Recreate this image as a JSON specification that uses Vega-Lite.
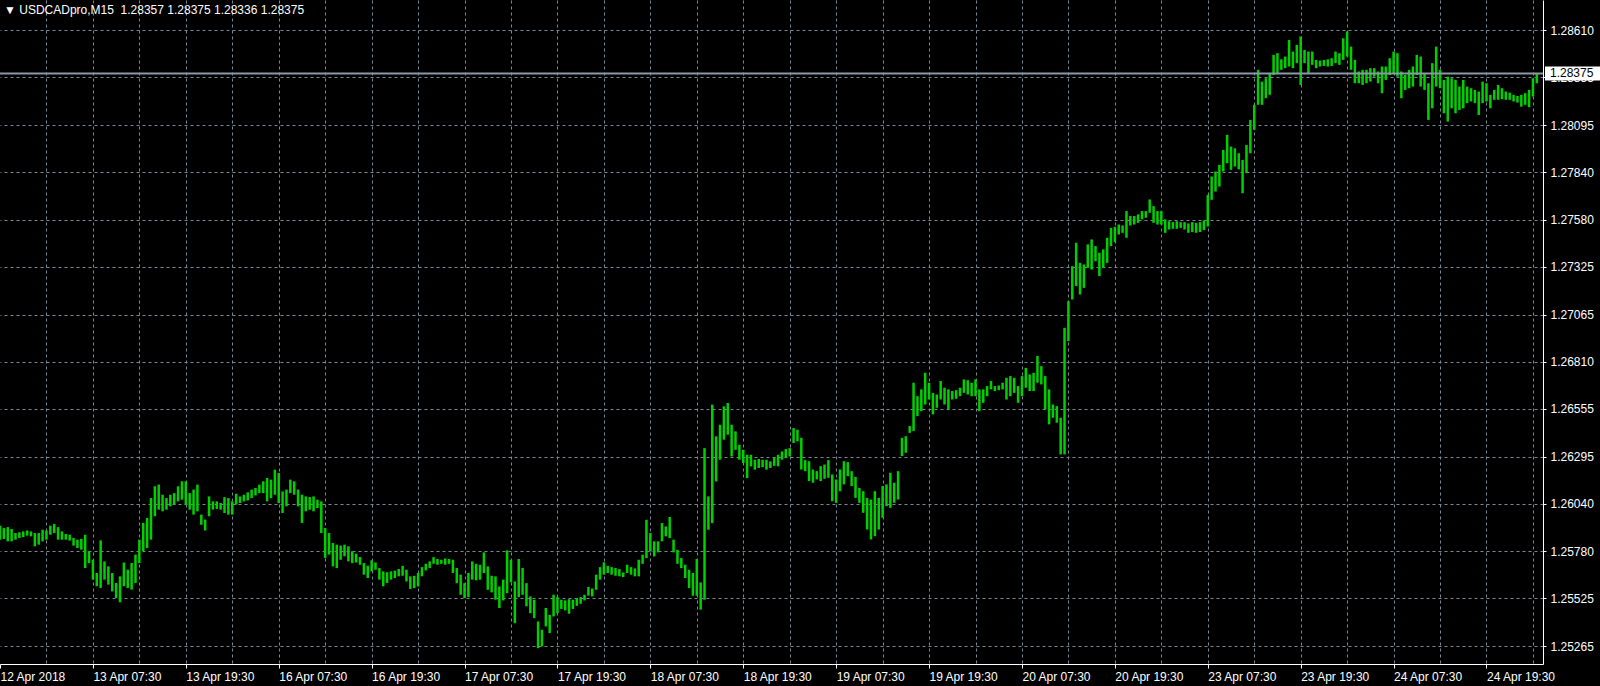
{
"$schema":"https://vega.github.io/schema/vega-lite/v6.json",
"width":1543,"height":664,"padding":{"left":0,"top":0,"right":57,"bottom":22},"autosize":{"type":"none"},
"background":"#000000",
"config":{"view":{"stroke":null,"fill":"#000000"},"font":"Liberation Sans"},
"layer":[
{"data":{"values":[
{"t":19.5,"hi":1.25920,"lo":1.25844},{"t":20,"hi":1.25907,"lo":1.25848},{"t":20.5,"hi":1.25912,"lo":1.25835},{"t":21,"hi":1.25902,"lo":1.25835},{"t":21.5,"hi":1.25880,"lo":1.25844},{"t":22,"hi":1.25884,"lo":1.25853},{"t":22.5,"hi":1.25889,"lo":1.25858},{"t":23,"hi":1.25894,"lo":1.25866},{"t":23.5,"hi":1.25889,"lo":1.25862},{"t":24,"hi":1.25880,"lo":1.25808},
{"t":24.5,"hi":1.25880,"lo":1.25817},{"t":25,"hi":1.25898,"lo":1.25835},{"t":25.5,"hi":1.25894,"lo":1.25844},{"t":26,"hi":1.25920,"lo":1.25871},{"t":26.5,"hi":1.25929,"lo":1.25880},{"t":27,"hi":1.25912,"lo":1.25844},{"t":27.5,"hi":1.25889,"lo":1.25844},{"t":28,"hi":1.25875,"lo":1.25844},{"t":28.5,"hi":1.25871,"lo":1.25839},{"t":29,"hi":1.25853,"lo":1.25812},
{"t":29.5,"hi":1.25844,"lo":1.25799},{"t":30,"hi":1.25848,"lo":1.25790},{"t":30.5,"hi":1.25871,"lo":1.25690},{"t":31,"hi":1.25781,"lo":1.25717},{"t":31.5,"hi":1.25735,"lo":1.25627},{"t":32,"hi":1.25663,"lo":1.25591},{"t":32.5,"hi":1.25840,"lo":1.25582},{"t":33,"hi":1.25726,"lo":1.25627},{"t":33.5,"hi":1.25699,"lo":1.25600},{"t":34,"hi":1.25663,"lo":1.25563},
{"t":34.5,"hi":1.25609,"lo":1.25527},{"t":35,"hi":1.25645,"lo":1.25504},{"t":35.5,"hi":1.25720,"lo":1.25591},{"t":36,"hi":1.25681,"lo":1.25582},{"t":36.5,"hi":1.25717,"lo":1.25573},{"t":37,"hi":1.25763,"lo":1.25609},{"t":37.5,"hi":1.25844,"lo":1.25717},{"t":38,"hi":1.25935,"lo":1.25781},{"t":38.5,"hi":1.25962,"lo":1.25799},{"t":39,"hi":1.26070,"lo":1.25844},
{"t":39.5,"hi":1.26134,"lo":1.25971},{"t":40,"hi":1.26143,"lo":1.26007},{"t":40.5,"hi":1.26088,"lo":1.25998},{"t":41,"hi":1.26070,"lo":1.26007},{"t":41.5,"hi":1.26088,"lo":1.26025},{"t":42,"hi":1.26097,"lo":1.26034},{"t":42.5,"hi":1.26134,"lo":1.26052},{"t":43,"hi":1.26161,"lo":1.26061},{"t":43.5,"hi":1.26161,"lo":1.26034},{"t":44,"hi":1.26097,"lo":1.26007},
{"t":44.5,"hi":1.26116,"lo":1.25980},{"t":45,"hi":1.26143,"lo":1.25998},{"t":45.5,"hi":1.25980,"lo":1.25925},{"t":46,"hi":1.25953,"lo":1.25894},{"t":46.5,"hi":1.26079,"lo":1.25971},{"t":47,"hi":1.26052,"lo":1.26007},{"t":47.5,"hi":1.26052,"lo":1.26011},{"t":48,"hi":1.26043,"lo":1.26007},{"t":48.5,"hi":1.26075,"lo":1.25989},{"t":49,"hi":1.26070,"lo":1.25980},
{"t":49.5,"hi":1.26052,"lo":1.25980},{"t":50,"hi":1.26093,"lo":1.26034},{"t":50.5,"hi":1.26079,"lo":1.26043},{"t":51,"hi":1.26088,"lo":1.26052},{"t":51.5,"hi":1.26101,"lo":1.26057},{"t":52,"hi":1.26116,"lo":1.26070},{"t":52.5,"hi":1.26125,"lo":1.26084},{"t":53,"hi":1.26143,"lo":1.26097},{"t":53.5,"hi":1.26161,"lo":1.26097},{"t":54,"hi":1.26179,"lo":1.26052},
{"t":54.5,"hi":1.26170,"lo":1.26070},{"t":55,"hi":1.26224,"lo":1.26088},{"t":55.5,"hi":1.26206,"lo":1.26043},{"t":56,"hi":1.26106,"lo":1.25989},{"t":56.5,"hi":1.26116,"lo":1.26025},{"t":57,"hi":1.26170,"lo":1.26097},{"t":57.5,"hi":1.26161,"lo":1.26088},{"t":58,"hi":1.26116,"lo":1.26025},{"t":58.5,"hi":1.26088,"lo":1.25935},{"t":59,"hi":1.26079,"lo":1.25998},
{"t":59.5,"hi":1.26075,"lo":1.26007},{"t":60,"hi":1.26079,"lo":1.25998},{"t":60.5,"hi":1.26061,"lo":1.26016},{"t":61,"hi":1.26052,"lo":1.25880},{"t":61.5,"hi":1.25907,"lo":1.25745},{"t":62,"hi":1.25880,"lo":1.25763},{"t":62.5,"hi":1.25826,"lo":1.25699},{"t":63,"hi":1.25817,"lo":1.25690},{"t":63.5,"hi":1.25812,"lo":1.25735},{"t":64,"hi":1.25817,"lo":1.25754},
{"t":64.5,"hi":1.25808,"lo":1.25726},{"t":65,"hi":1.25781,"lo":1.25717},{"t":65.5,"hi":1.25768,"lo":1.25720},{"t":66,"hi":1.25750,"lo":1.25708},{"t":66.5,"hi":1.25717,"lo":1.25654},{"t":67,"hi":1.25703,"lo":1.25636},{"t":67.5,"hi":1.25732,"lo":1.25672},{"t":68,"hi":1.25720,"lo":1.25681},{"t":68.5,"hi":1.25690,"lo":1.25627},{"t":69,"hi":1.25672,"lo":1.25591},
{"t":69.5,"hi":1.25667,"lo":1.25609},{"t":70,"hi":1.25672,"lo":1.25627},{"t":70.5,"hi":1.25676,"lo":1.25636},{"t":71,"hi":1.25685,"lo":1.25645},
{"t":71.5,"hi":1.25702,"lo":1.25648},{"t":72,"hi":1.25681,"lo":1.25617},{"t":72.5,"hi":1.25645,"lo":1.25576},{"t":73,"hi":1.25648,"lo":1.25581},{"t":73.5,"hi":1.25663,"lo":1.25590},{"t":74,"hi":1.25695,"lo":1.25645},{"t":74.5,"hi":1.25713,"lo":1.25677},{"t":75,"hi":1.25726,"lo":1.25690},{"t":75.5,"hi":1.25749,"lo":1.25713},{"t":76,"hi":1.25739,"lo":1.25708},
{"t":76.5,"hi":1.25735,"lo":1.25713},{"t":77,"hi":1.25742,"lo":1.25708},{"t":77.5,"hi":1.25739,"lo":1.25713},{"t":78,"hi":1.25735,"lo":1.25663},{"t":78.5,"hi":1.25690,"lo":1.25608},{"t":79,"hi":1.25654,"lo":1.25545},{"t":79.5,"hi":1.25608,"lo":1.25527},{"t":80,"hi":1.25663,"lo":1.25532},{"t":80.5,"hi":1.25726,"lo":1.25627},{"t":81,"hi":1.25713,"lo":1.25623},
{"t":81.5,"hi":1.25708,"lo":1.25627},{"t":82,"hi":1.25775,"lo":1.25663},{"t":82.5,"hi":1.25699,"lo":1.25572},{"t":83,"hi":1.25648,"lo":1.25558},{"t":83.5,"hi":1.25645,"lo":1.25518},{"t":84,"hi":1.25590,"lo":1.25473},{"t":84.5,"hi":1.25627,"lo":1.25514},{"t":85,"hi":1.25786,"lo":1.25554},{"t":85.5,"hi":1.25735,"lo":1.25612},{"t":86,"hi":1.25617,"lo":1.25391},
{"t":86.5,"hi":1.25739,"lo":1.25532},{"t":87,"hi":1.25690,"lo":1.25545},{"t":87.5,"hi":1.25608,"lo":1.25482},{"t":88,"hi":1.25536,"lo":1.25445},{"t":88.5,"hi":1.25518,"lo":1.25418},{"t":89,"hi":1.25400,"lo":1.25255},{"t":89.5,"hi":1.25355,"lo":1.25265},{"t":90,"hi":1.25473,"lo":1.25373},{"t":90.5,"hi":1.25436,"lo":1.25337},{"t":91,"hi":1.25545,"lo":1.25427},
{"t":91.5,"hi":1.25532,"lo":1.25445},{"t":92,"hi":1.25518,"lo":1.25468},{"t":92.5,"hi":1.25514,"lo":1.25460},{"t":93,"hi":1.25521,"lo":1.25442},{"t":93.5,"hi":1.25518,"lo":1.25468},{"t":94,"hi":1.25527,"lo":1.25485},{"t":94.5,"hi":1.25532,"lo":1.25496},{"t":95,"hi":1.25545,"lo":1.25514},{"t":95.5,"hi":1.25587,"lo":1.25540},{"t":96,"hi":1.25579,"lo":1.25536},
{"t":96.5,"hi":1.25654,"lo":1.25572},{"t":97,"hi":1.25695,"lo":1.25627},{"t":97.5,"hi":1.25721,"lo":1.25654},{"t":98,"hi":1.25702,"lo":1.25663},{"t":98.5,"hi":1.25695,"lo":1.25654},{"t":99,"hi":1.25690,"lo":1.25648},{"t":99.5,"hi":1.25684,"lo":1.25645},{"t":100,"hi":1.25666,"lo":1.25641},{"t":100.5,"hi":1.25708,"lo":1.25663},{"t":101,"hi":1.25695,"lo":1.25654},
{"t":101.5,"hi":1.25688,"lo":1.25645},{"t":102,"hi":1.25735,"lo":1.25645},{"t":102.5,"hi":1.25762,"lo":1.25713},{"t":103,"hi":1.25952,"lo":1.25744},{"t":103.5,"hi":1.25880,"lo":1.25780},{"t":104,"hi":1.25835,"lo":1.25753},{"t":104.5,"hi":1.25835,"lo":1.25775},{"t":105,"hi":1.25934,"lo":1.25835},{"t":105.5,"hi":1.25916,"lo":1.25862},{"t":106,"hi":1.25967,"lo":1.25853},
{"t":106.5,"hi":1.25844,"lo":1.25775},{"t":107,"hi":1.25789,"lo":1.25713},{"t":107.5,"hi":1.25744,"lo":1.25690},{"t":108,"hi":1.25708,"lo":1.25636},{"t":108.5,"hi":1.25681,"lo":1.25581},{"t":109,"hi":1.25663,"lo":1.25540},{"t":109.5,"hi":1.25739,"lo":1.25540},{"t":110,"hi":1.25612,"lo":1.25464},{"t":110.5,"hi":1.26341,"lo":1.25518},{"t":111,"hi":1.26079,"lo":1.25898},
{"t":111.5,"hi":1.26577,"lo":1.25934},{"t":112,"hi":1.26405,"lo":1.26160},{"t":112.5,"hi":1.26468,"lo":1.26278},{"t":113,"hi":1.26568,"lo":1.26387},{"t":113.5,"hi":1.26586,"lo":1.26414},{"t":114,"hi":1.26468,"lo":1.26296},{"t":114.5,"hi":1.26432,"lo":1.26332},{"t":115,"hi":1.26359,"lo":1.26278},{"t":115.5,"hi":1.26332,"lo":1.26260},{"t":116,"hi":1.26305,"lo":1.26178},
{"t":116.5,"hi":1.26305,"lo":1.26242},{"t":117,"hi":1.26278,"lo":1.26224},{"t":117.5,"hi":1.26282,"lo":1.26233},{"t":118,"hi":1.26278,"lo":1.26238},{"t":118.5,"hi":1.26278,"lo":1.26224},{"t":119,"hi":1.26269,"lo":1.26233},{"t":119.5,"hi":1.26292,"lo":1.26245},{"t":120,"hi":1.26305,"lo":1.26242},{"t":120.5,"hi":1.26323,"lo":1.26278},{"t":121,"hi":1.26336,"lo":1.26287},
{"t":121.5,"hi":1.26341,"lo":1.26296},{"t":122,"hi":1.26450,"lo":1.26369},{"t":122.5,"hi":1.26441,"lo":1.26378},
{"t":123,"hi":1.26397,"lo":1.26225},{"t":123.5,"hi":1.26276,"lo":1.26216},{"t":124,"hi":1.26270,"lo":1.26162},{"t":124.5,"hi":1.26225,"lo":1.26153},{"t":125,"hi":1.26216,"lo":1.26171},{"t":125.5,"hi":1.26243,"lo":1.26162},{"t":126,"hi":1.26252,"lo":1.26175},{"t":126.5,"hi":1.26276,"lo":1.26180},{"t":127,"hi":1.26198,"lo":1.26053},{"t":127.5,"hi":1.26171,"lo":1.26044},
{"t":128,"hi":1.26225,"lo":1.26107},{"t":128.5,"hi":1.26270,"lo":1.26144},{"t":129,"hi":1.26265,"lo":1.26189},{"t":129.5,"hi":1.26216,"lo":1.26135},{"t":130,"hi":1.26185,"lo":1.26071},{"t":130.5,"hi":1.26125,"lo":1.26044},{"t":131,"hi":1.26107,"lo":1.25990},{"t":131.5,"hi":1.26071,"lo":1.25899},{"t":132,"hi":1.26062,"lo":1.25845},{"t":132.5,"hi":1.26107,"lo":1.25863},
{"t":133,"hi":1.26071,"lo":1.25899},{"t":133.5,"hi":1.26135,"lo":1.25963},{"t":134,"hi":1.26144,"lo":1.26026},{"t":134.5,"hi":1.26207,"lo":1.26017},{"t":135,"hi":1.26153,"lo":1.26044},{"t":135.5,"hi":1.26216,"lo":1.26062},{"t":136,"hi":1.26397,"lo":1.26298},{"t":136.5,"hi":1.26406,"lo":1.26316},{"t":137,"hi":1.26461,"lo":1.26424},{"t":137.5,"hi":1.26696,"lo":1.26434},
{"t":138,"hi":1.26623,"lo":1.26515},{"t":138.5,"hi":1.26660,"lo":1.26542},{"t":139,"hi":1.26750,"lo":1.26578},{"t":139.5,"hi":1.26696,"lo":1.26605},{"t":140,"hi":1.26641,"lo":1.26524},{"t":140.5,"hi":1.26632,"lo":1.26560},{"t":141,"hi":1.26705,"lo":1.26605},{"t":141.5,"hi":1.26669,"lo":1.26578},{"t":142,"hi":1.26660,"lo":1.26551},{"t":142.5,"hi":1.26651,"lo":1.26605},
{"t":143,"hi":1.26656,"lo":1.26609},{"t":143.5,"hi":1.26669,"lo":1.26623},{"t":144,"hi":1.26714,"lo":1.26641},{"t":144.5,"hi":1.26710,"lo":1.26632},{"t":145,"hi":1.26696,"lo":1.26623},{"t":145.5,"hi":1.26714,"lo":1.26623},{"t":146,"hi":1.26660,"lo":1.26542},{"t":146.5,"hi":1.26660,"lo":1.26587},{"t":147,"hi":1.26678,"lo":1.26623},{"t":147.5,"hi":1.26705,"lo":1.26660},
{"t":148,"hi":1.26678,"lo":1.26651},{"t":148.5,"hi":1.26681,"lo":1.26656},{"t":149,"hi":1.26696,"lo":1.26660},{"t":149.5,"hi":1.26723,"lo":1.26605},{"t":150,"hi":1.26732,"lo":1.26623},{"t":150.5,"hi":1.26723,"lo":1.26641},{"t":151,"hi":1.26678,"lo":1.26587},{"t":151.5,"hi":1.26732,"lo":1.26623},{"t":152,"hi":1.26777,"lo":1.26669},{"t":152.5,"hi":1.26741,"lo":1.26651},
{"t":153,"hi":1.26750,"lo":1.26651},{"t":153.5,"hi":1.26841,"lo":1.26696},{"t":154,"hi":1.26786,"lo":1.26687},{"t":154.5,"hi":1.26732,"lo":1.26551},{"t":155,"hi":1.26660,"lo":1.26470},{"t":155.5,"hi":1.26578,"lo":1.26506},{"t":156,"hi":1.26569,"lo":1.26479},{"t":156.5,"hi":1.26506,"lo":1.26307},{"t":157,"hi":1.26994,"lo":1.26307},{"t":157.5,"hi":1.27139,"lo":1.26922},
{"t":158,"hi":1.27329,"lo":1.27148},{"t":158.5,"hi":1.27456,"lo":1.27221},{"t":159,"hi":1.27347,"lo":1.27175},{"t":159.5,"hi":1.27338,"lo":1.27211},{"t":160,"hi":1.27447,"lo":1.27320},{"t":160.5,"hi":1.27474,"lo":1.27311},{"t":161,"hi":1.27438,"lo":1.27356},{"t":161.5,"hi":1.27402,"lo":1.27275},{"t":162,"hi":1.27420,"lo":1.27320},{"t":162.5,"hi":1.27483,"lo":1.27347},
{"t":163,"hi":1.27537,"lo":1.27438},{"t":163.5,"hi":1.27543,"lo":1.27460},{"t":164,"hi":1.27555,"lo":1.27501},{"t":164.5,"hi":1.27550,"lo":1.27510},{"t":165,"hi":1.27628,"lo":1.27483},{"t":165.5,"hi":1.27601,"lo":1.27550},{"t":166,"hi":1.27601,"lo":1.27555},{"t":166.5,"hi":1.27610,"lo":1.27564},{"t":167,"hi":1.27628,"lo":1.27583},{"t":167.5,"hi":1.27628,"lo":1.27592},
{"t":168,"hi":1.27691,"lo":1.27619},{"t":168.5,"hi":1.27655,"lo":1.27564},{"t":169,"hi":1.27628,"lo":1.27555},{"t":169.5,"hi":1.27628,"lo":1.27555},{"t":170,"hi":1.27583,"lo":1.27510},{"t":170.5,"hi":1.27573,"lo":1.27528},{"t":171,"hi":1.27568,"lo":1.27532},{"t":171.5,"hi":1.27573,"lo":1.27532},{"t":172,"hi":1.27568,"lo":1.27537},{"t":172.5,"hi":1.27568,"lo":1.27528},
{"t":173,"hi":1.27561,"lo":1.27510},{"t":173.5,"hi":1.27568,"lo":1.27514},{"t":174,"hi":1.27564,"lo":1.27510},
{"t":174.5,"hi":1.27568,"lo":1.27514},{"t":175,"hi":1.27578,"lo":1.27525},{"t":175.5,"hi":1.27716,"lo":1.27544},{"t":176,"hi":1.27816,"lo":1.27689},{"t":176.5,"hi":1.27843,"lo":1.27734},{"t":177,"hi":1.27879,"lo":1.27761},{"t":177.5,"hi":1.27960,"lo":1.27843},{"t":178,"hi":1.28042,"lo":1.27888},{"t":178.5,"hi":1.27978,"lo":1.27852},{"t":179,"hi":1.27969,"lo":1.27870},
{"t":179.5,"hi":1.27942,"lo":1.27855},{"t":180,"hi":1.27906,"lo":1.27725},{"t":180.5,"hi":1.27987,"lo":1.27834},{"t":181,"hi":1.28123,"lo":1.27942},{"t":181.5,"hi":1.28205,"lo":1.28069},{"t":182,"hi":1.28395,"lo":1.28205},{"t":182.5,"hi":1.28331,"lo":1.28205},{"t":183,"hi":1.28349,"lo":1.28241},{"t":183.5,"hi":1.28376,"lo":1.28259},{"t":184,"hi":1.28476,"lo":1.28367},
{"t":184.5,"hi":1.28485,"lo":1.28376},{"t":185,"hi":1.28452,"lo":1.28395},{"t":185.5,"hi":1.28467,"lo":1.28404},{"t":186,"hi":1.28557,"lo":1.28413},{"t":186.5,"hi":1.28494,"lo":1.28404},{"t":187,"hi":1.28530,"lo":1.28431},{"t":187.5,"hi":1.28576,"lo":1.28313},{"t":188,"hi":1.28503,"lo":1.28431},{"t":188.5,"hi":1.28494,"lo":1.28376},{"t":189,"hi":1.28494,"lo":1.28422},
{"t":189.5,"hi":1.28449,"lo":1.28404},{"t":190,"hi":1.28445,"lo":1.28413},{"t":190.5,"hi":1.28449,"lo":1.28416},{"t":191,"hi":1.28452,"lo":1.28413},{"t":191.5,"hi":1.28458,"lo":1.28416},{"t":192,"hi":1.28494,"lo":1.28431},{"t":192.5,"hi":1.28485,"lo":1.28422},{"t":193,"hi":1.28566,"lo":1.28449},{"t":193.5,"hi":1.28603,"lo":1.28467},{"t":194,"hi":1.28521,"lo":1.28395},
{"t":194.5,"hi":1.28449,"lo":1.28322},{"t":195,"hi":1.28386,"lo":1.28322},{"t":195.5,"hi":1.28395,"lo":1.28313},{"t":196,"hi":1.28395,"lo":1.28322},{"t":196.5,"hi":1.28404,"lo":1.28331},{"t":197,"hi":1.28404,"lo":1.28358},{"t":197.5,"hi":1.28386,"lo":1.28322},{"t":198,"hi":1.28413,"lo":1.28268},{"t":198.5,"hi":1.28413,"lo":1.28340},{"t":199,"hi":1.28458,"lo":1.28367},
{"t":199.5,"hi":1.28494,"lo":1.28376},{"t":200,"hi":1.28485,"lo":1.28358},{"t":200.5,"hi":1.28386,"lo":1.28241},{"t":201,"hi":1.28367,"lo":1.28286},{"t":201.5,"hi":1.28395,"lo":1.28295},{"t":202,"hi":1.28413,"lo":1.28304},{"t":202.5,"hi":1.28476,"lo":1.28367},{"t":203,"hi":1.28467,"lo":1.28304},{"t":203.5,"hi":1.28376,"lo":1.28286},{"t":204,"hi":1.28322,"lo":1.28123},
{"t":204.5,"hi":1.28431,"lo":1.28186},{"t":205,"hi":1.28521,"lo":1.28304},{"t":205.5,"hi":1.28395,"lo":1.28295},{"t":206,"hi":1.28340,"lo":1.28159},{"t":206.5,"hi":1.28358,"lo":1.28114},{"t":207,"hi":1.28349,"lo":1.28186},{"t":207.5,"hi":1.28340,"lo":1.28159},{"t":208,"hi":1.28304,"lo":1.28177},{"t":208.5,"hi":1.28340,"lo":1.28186},{"t":209,"hi":1.28304,"lo":1.28214},
{"t":209.5,"hi":1.28295,"lo":1.28223},{"t":210,"hi":1.28286,"lo":1.28214},{"t":210.5,"hi":1.28277,"lo":1.28150},{"t":211,"hi":1.28331,"lo":1.28214},{"t":211.5,"hi":1.28322,"lo":1.28223},{"t":212,"hi":1.28259,"lo":1.28186},{"t":212.5,"hi":1.28286,"lo":1.28232},{"t":213,"hi":1.28313,"lo":1.28232},{"t":213.5,"hi":1.28295,"lo":1.28235},{"t":214,"hi":1.28277,"lo":1.28232},
{"t":214.5,"hi":1.28271,"lo":1.28232},{"t":215,"hi":1.28259,"lo":1.28223},{"t":215.5,"hi":1.28253,"lo":1.28217},{"t":216,"hi":1.28259,"lo":1.28195},{"t":216.5,"hi":1.28268,"lo":1.28205},{"t":217,"hi":1.28286,"lo":1.28192},{"t":217.5,"hi":1.28349,"lo":1.28250},{"t":218,"hi":1.28376,"lo":1.28322}
]},
"mark":{"type":"rule","color":"#00d000","strokeWidth":2.5},
"encoding":{
"x":{"field":"t","type":"quantitative","scale":{"domain":[19.5,218.8],"nice":false,"zero":false},
"axis":{"orient":"bottom","title":null,
"values":[19.5,25.5,31.5,37.5,43.5,49.5,55.5,61.5,67.5,73.5,79.5,85.5,91.5,97.5,103.5,109.5,115.5,121.5,127.5,133.5,139.5,145.5,151.5,157.5,163.5,169.5,175.5,181.5,187.5,193.5,199.5,205.5,211.5,217.5],
"labelExpr":"(datum.value - 19.5) % 12 == 0 ? ['12 Apr 2018','13 Apr 07:30','13 Apr 19:30','16 Apr 07:30','16 Apr 19:30','17 Apr 07:30','17 Apr 19:30','18 Apr 07:30','18 Apr 19:30','19 Apr 07:30','19 Apr 19:30','20 Apr 07:30','20 Apr 19:30','23 Apr 07:30','23 Apr 19:30','24 Apr 07:30','24 Apr 19:30'][round((datum.value - 19.5) / 12)] : ''",
"labelAlign":"left","labelBaseline":"top","labelPadding":3,"labelColor":"#ffffff","labelFont":"Liberation Sans","labelFontSize":12,
"labelOverlap":false,"labelFlush":false,"labelBound":false,
"tickSize":4,"tickColor":{"condition":{"test":"(datum.value - 19.5) % 12 == 0","value":"#ffffff"},"value":"transparent"},
"domainColor":"#ffffff","domainWidth":1,
"grid":true,"gridColor":"#778899","gridDash":[3,3],"gridWidth":1,
"gridOpacity":{"condition":{"test":"datum.value < 20","value":0},"value":1}}},
"y":{"field":"lo","type":"quantitative","scale":{"domain":[1.25169,1.28774],"nice":false,"zero":false},
"axis":{"orient":"right","title":null,
"values":[1.25265,1.25525,1.2578,1.2604,1.26295,1.26555,1.2681,1.27065,1.27325,1.2758,1.2784,1.28095,1.28355,1.2861],
"format":".5f","labelColor":"#ffffff","labelFont":"Liberation Sans","labelFontSize":12,"labelPadding":4,"labelBaseline":"middle",
"labelOverlap":false,"labelFlush":false,"labelBound":false,
"tickSize":3,"tickColor":"#ffffff","domainColor":"#ffffff","domainWidth":1,
"grid":true,"gridColor":"#778899","gridDash":[3,3],"gridWidth":1}},
"y2":{"field":"hi"}
}},
{"data":{"values":[{"lo":1.28375}]},
"mark":{"type":"rule","color":"#8a98a8","strokeWidth":2},
"encoding":{"y":{"field":"lo","type":"quantitative"}}},
{"data":{"values":[{"t":218.8,"lo":1.28375,"label":"1.28375"}]},
"mark":{"type":"rect","fill":"#ffffff","xOffset":2,"x2Offset":57,"yOffset":-7,"y2Offset":7},
"encoding":{"x":{"field":"t","type":"quantitative"},"x2":{"field":"t"},"y":{"field":"lo","type":"quantitative"},"y2":{"field":"lo"}}},
{"data":{"values":[{"t":218.8,"lo":1.28375,"label":"1.28375"}]},
"mark":{"type":"text","align":"left","baseline":"middle","dx":7,"color":"#000000","font":"Liberation Sans","fontSize":12},
"encoding":{"x":{"field":"t","type":"quantitative"},"y":{"field":"lo","type":"quantitative"},"text":{"field":"label"}}},
{"data":{"values":[{"t":19.5,"lo":1.28774,"label":"▼ USDCADpro,M15\u00a0\u00a01.28357 1.28375 1.28336 1.28375"}]},
"mark":{"type":"text","align":"left","baseline":"alphabetic","dx":4,"dy":13.5,"color":"#ffffff","font":"Liberation Sans","fontSize":12},
"encoding":{"x":{"field":"t","type":"quantitative"},"y":{"field":"lo","type":"quantitative"},"text":{"field":"label"}}}
]
}
